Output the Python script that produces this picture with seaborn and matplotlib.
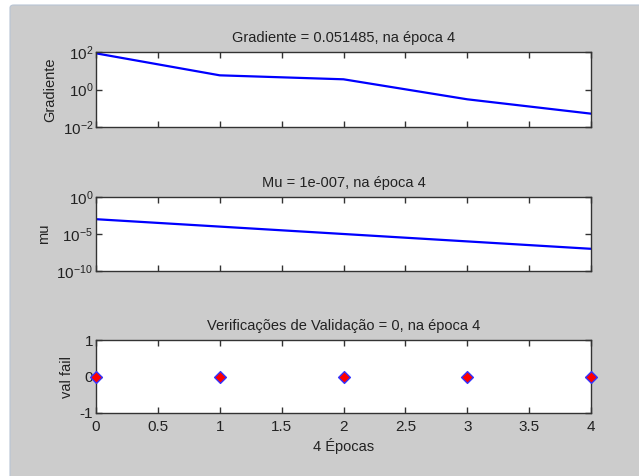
import matplotlib
matplotlib.use("Agg")
import matplotlib.pyplot as plt
from matplotlib.patches import FancyBboxPatch
import seaborn as sns

# Training state per epoch
epochs = [0, 1, 2, 3, 4]
gradient = [85.0, 5.7, 3.5, 0.30, 0.051485]
mu = [1e-3, 1e-4, 1e-5, 1e-6, 1e-7]
val_fail = [0, 0, 0, 0, 0]
x_ticks = [0, 0.5, 1, 1.5, 2, 2.5, 3, 3.5, 4]
x_tick_labels = ["0", "0.5", "1", "1.5", "2", "2.5", "3", "3.5", "4"]

sns.set_theme(style="white")
plt.rcParams["font.family"] = ["Liberation Sans", "DejaVu Sans"]
plt.rcParams["mathtext.fontset"] = "custom"
plt.rcParams["mathtext.rm"] = "Liberation Sans"
plt.rcParams["mathtext.it"] = "Liberation Sans"

W, H = 639, 476
fig = plt.figure(figsize=(W / 100, H / 100), dpi=100, facecolor="white")

# grey window panel
panel = FancyBboxPatch((10 / W, -0.05), 1.0, 1 - 5 / H + 0.05,
                       boxstyle="round,pad=0,rounding_size=0.006",
                       transform=fig.transFigure, facecolor="#cccccc",
                       edgecolor="#b8c4d4", linewidth=0.8, zorder=-10)
fig.patches.append(panel)

text_col = "#222222"
fs_title = 10.5
fs_label = 10.5
fs_tick = 11
left, width = 96 / W, 495 / W


def make_axes(top_px, bottom_px):
    ax = fig.add_axes([left, 1 - bottom_px / H, width, (bottom_px - top_px) / H])
    ax.set_facecolor("white")
    for s in ax.spines.values():
        s.set_color("#333333")
        s.set_linewidth(1.0)
        s.set_visible(True)
    ax.tick_params(direction="in", length=4, width=1.0, color="#333333",
                   top=True, right=True, bottom=True, left=True,
                   labelsize=fs_tick, labelcolor=text_col)
    ax.tick_params(axis="y", pad=2)
    ax.tick_params(axis="x", pad=5)
    ax.minorticks_off()
    ax.set_xlim(0, 4)
    ax.set_xticks(x_ticks)
    return ax


# Gradient
ax1 = make_axes(52, 127)
sns.lineplot(x=epochs, y=gradient, ax=ax1, color="#0000ff", linewidth=1.6)
ax1.set_yscale("log")
ax1.set_ylim(1e-2, 1e2)
ax1.set_yticks([1e-2, 1e0, 1e2])
ax1.set_yticklabels([r"$10^{-2}$", r"$10^{0}$", r"$10^{2}$"])
ax1.minorticks_off()
ax1.set_xticks(x_ticks)
ax1.set_xticklabels([])
ax1.set_ylabel("Gradiente", fontsize=fs_label, color=text_col, labelpad=4)
ax1.set_title("Gradiente = 0.051485, na época 4", fontsize=fs_title,
              color=text_col, pad=7)

# Mu
ax2 = make_axes(197, 271)
sns.lineplot(x=epochs, y=mu, ax=ax2, color="#0000ff", linewidth=1.6)
ax2.set_yscale("log")
ax2.set_ylim(1e-10, 1e0)
ax2.set_yticks([1e-10, 1e-5, 1e0])
ax2.set_yticklabels([r"$10^{-10}$", r"$10^{-5}$", r"$10^{0}$"])
ax2.minorticks_off()
ax2.set_xticks(x_ticks)
ax2.set_xticklabels([])
ax2.set_ylabel("mu", fontsize=fs_label, color=text_col, labelpad=4)
ax2.set_title("Mu = 1e-007, na época 4", fontsize=fs_title, color=text_col, pad=7)

# Validation checks
ax3 = make_axes(340, 413)
sns.scatterplot(x=epochs, y=val_fail, ax=ax3, marker="D", s=36,
                color="#ff0000", edgecolor="#3333ff", linewidth=1.0,
                clip_on=False, zorder=5)
ax3.set_ylim(-1, 1)
ax3.set_yticks([-1, 0, 1])
ax3.set_yticklabels(["-1", "0", "1"])
ax3.set_xticks(x_ticks)
ax3.set_xticklabels(x_tick_labels)
ax3.set_xlabel("4 Épocas", fontsize=fs_label, color=text_col, labelpad=3)
ax3.set_ylabel("val fail", fontsize=fs_label, color=text_col, labelpad=4)
ax3.set_title("Verificações de Validação = 0, na época 4", fontsize=fs_title,
              color=text_col, pad=7)

fig.savefig("out.png", dpi=100, facecolor="white")
